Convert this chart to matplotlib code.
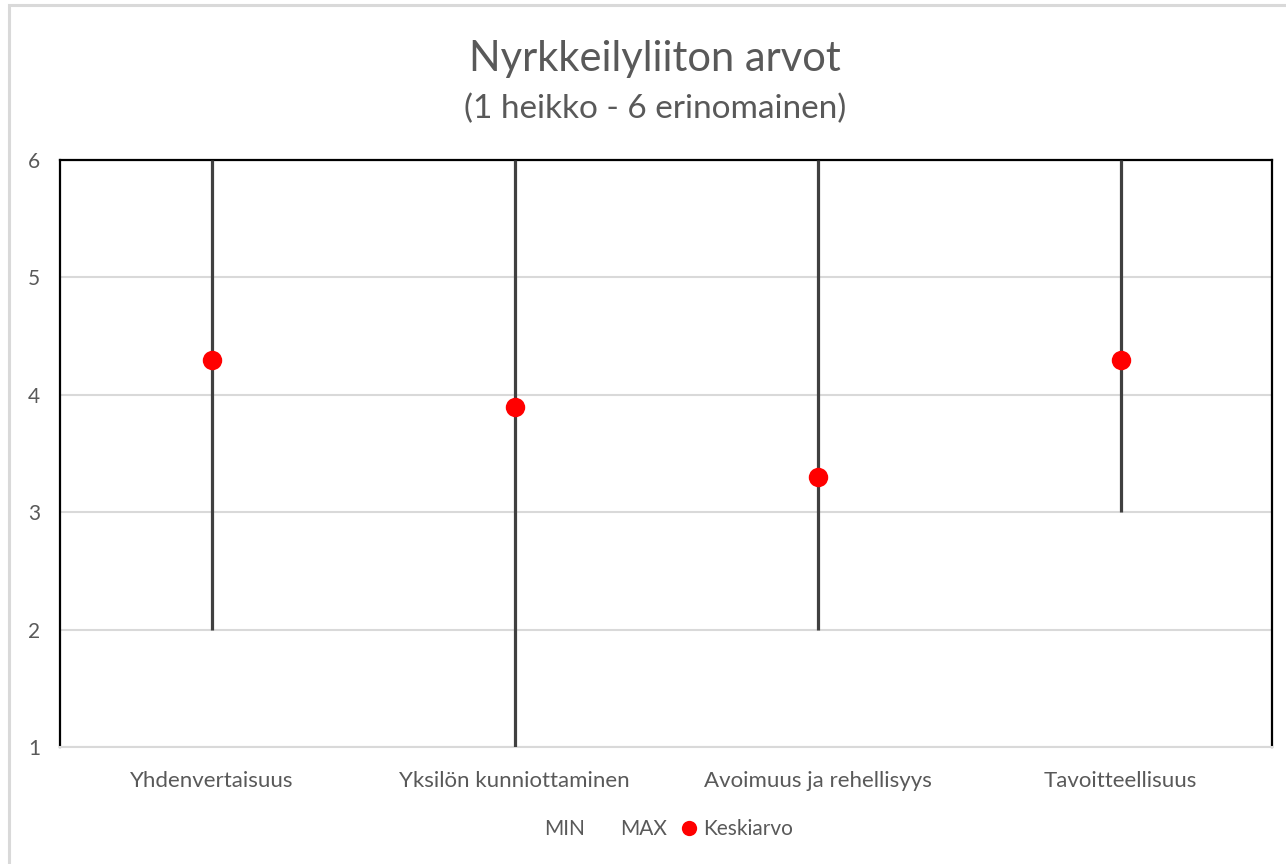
import matplotlib
matplotlib.use("Agg")
import matplotlib.pyplot as plt
from matplotlib.lines import Line2D
from matplotlib.patches import Rectangle

categories = ["Yhdenvertaisuus", "Yksilön kunniottaminen", "Avoimuus ja rehellisyys", "Tavoitteellisuus"]
min_vals = [2, 1, 2, 3]
max_vals = [6, 6, 6, 6]
mean_vals = [4.3, 3.9, 3.3, 4.3]
y_ticks = [1, 2, 3, 4, 5, 6]

title = "Nyrkkeilyliiton arvot"
subtitle = "(1 heikko - 6 erinomainen)"

plt.rcParams['font.family'] = ['Lato', 'DejaVu Sans']
TXT = "#595959"

W, H = 1286, 864
fig = plt.figure(figsize=(W / 100, H / 100), dpi=100)
fig.patches.append(Rectangle((9 / W, -0.1), 1.2, 1 - 5 / H + 0.1, transform=fig.transFigure,
                             fill=False, edgecolor="#d9d9d9", linewidth=2.2, zorder=0))

ax = fig.add_axes([60 / W, 117 / H, 1212 / W, 587 / H])
x = list(range(len(categories)))

ax.set_xlim(-0.5, len(categories) - 0.5)
ax.set_ylim(min(y_ticks), max(y_ticks))
ax.set_yticks(y_ticks)
ax.set_xticks(x)
ax.set_xticklabels(categories)
ax.yaxis.grid(True, color="#d9d9d9", linewidth=1.5)
ax.set_axisbelow(True)

ax.vlines(x, min_vals, max_vals, color="#404040", linewidth=2.3, zorder=3)
ax.plot(x, mean_vals, linestyle="none", marker="o", markersize=14, color="#ff0000",
        markeredgewidth=0, zorder=4)

for s in ["left", "top", "right"]:
    ax.spines[s].set_color("black")
    ax.spines[s].set_linewidth(1.6)
ax.spines["bottom"].set_color("#d9d9d9")
ax.spines["bottom"].set_linewidth(1.5)
ax.tick_params(axis="both", length=0, colors=TXT)
ax.tick_params(axis="y", pad=14.4, labelsize=15)
ax.tick_params(axis="x", pad=17, labelsize=16)

handles = [Line2D([], [], linestyle="none", marker=None),
           Line2D([], [], linestyle="none", marker=None),
           Line2D([], [], linestyle="none", marker="o", markersize=11, color="#ff0000", markeredgewidth=0)]
leg = fig.legend(handles, ["MIN", "MAX", "Keskiarvo"], loc="center", bbox_to_anchor=(657 / W, 1 - 829 / H),
                 ncol=3, frameon=False, fontsize=15, handlelength=0.9, handletextpad=0.2,
                 columnspacing=0.6, labelcolor=TXT)

fig.text(655 / W, 1 - 59 / H, title, ha="center", va="center", fontsize=30, color=TXT)
fig.text(655 / W, 1 - 109 / H, subtitle, ha="center", va="center", fontsize=24, color=TXT)

fig.savefig("out.png", dpi=100, facecolor="white")
